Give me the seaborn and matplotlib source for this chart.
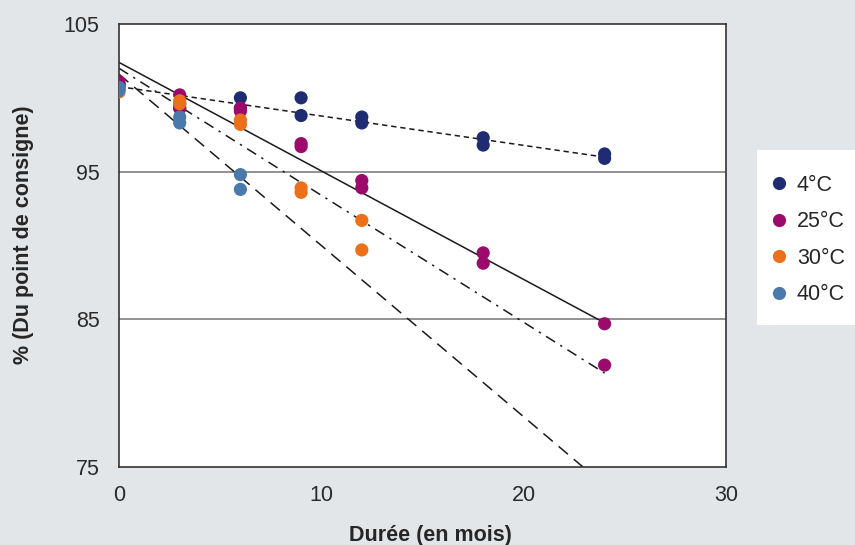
import matplotlib
matplotlib.use('Agg')
import matplotlib.pyplot as plt
import seaborn as sns
import numpy as np
import pandas as pd
from matplotlib.patches import Rectangle

# stability data, % of set point vs months
temps = ['4°C', '25°C', '30°C', '40°C']
colors = ['#1f2c72', '#9c0a6b', '#ec6f1a', '#4a7aab']

months_4 = [0, 0, 3, 3, 6, 6, 9, 9, 12, 12, 18, 18, 24, 24]
pct_4 = [100.9, 100.7, 99.6, 99.3, 100.0, 99.3, 100.0, 98.8, 98.7, 98.3, 97.3, 96.8, 96.2, 95.9]

months_25 = [0, 0, 3, 3, 6, 6, 9, 9, 12, 12, 18, 18, 24, 24]
pct_25 = [101.1, 100.9, 100.2, 99.3, 99.3, 99.1, 96.9, 96.7, 94.4, 93.9, 89.5, 88.8, 84.7, 81.9]

months_30 = [0, 0, 3, 3, 6, 6, 9, 9, 12, 12]
pct_30 = [100.4, 100.6, 99.8, 99.6, 98.5, 98.2, 93.9, 93.6, 91.7, 89.7]

months_40 = [0, 0, 3, 3, 6, 6]
pct_40 = [100.7, 100.5, 98.7, 98.3, 94.8, 93.8]

# trend lines (intercept, slope per month)
trend_intercept = [100.76, 102.4, 102.0, 101.6]
trend_slope = [-0.199, -0.735, -0.86, -1.16]
trend_styles = [(0, (3.5, 2.5)), '-', (0, (7, 4, 1.5, 4)), (0, (8, 5))]

df = pd.concat([
    pd.DataFrame({'Durée': months_4, 'pct': pct_4, 'Temp': temps[0]}),
    pd.DataFrame({'Durée': months_25, 'pct': pct_25, 'Temp': temps[1]}),
    pd.DataFrame({'Durée': months_30, 'pct': pct_30, 'Temp': temps[2]}),
    pd.DataFrame({'Durée': months_40, 'pct': pct_40, 'Temp': temps[3]}),
], ignore_index=True)

sns.set_style('white')
plt.rcParams['font.family'] = ['Liberation Sans', 'DejaVu Sans']

bg = '#e3e6e9'
W, H = 855, 545
fig = plt.figure(figsize=(8.55, 5.45), dpi=100, facecolor=bg)
ax = fig.add_axes([119 / W, 1 - 467 / H, (726 - 119) / W, (467 - 24) / H])
ax.set_facecolor('white')

ax.axhline(95, color='#7f7f7f', lw=1.2, zorder=1)
ax.axhline(85, color='#7f7f7f', lw=1.2, zorder=1)

x_line = np.array([0, 24])
for b, m, ls in zip(trend_intercept, trend_slope, trend_styles):
    ax.plot(x_line, b + m * x_line, color='#1a1a1a', lw=1.1, linestyle=ls, zorder=2)

sns.scatterplot(data=df, x='Durée', y='pct', hue='Temp', hue_order=temps,
                palette=colors, s=90, edgecolor='none', linewidth=0, ax=ax, zorder=3)

ax.set_xlim(0, 30)
ax.set_ylim(75, 105)
ax.set_xticks([0, 10, 20, 30])
ax.set_yticks([75, 85, 95, 105])
for s in ax.spines.values():
    s.set_color('#333333')
    s.set_linewidth(1.2)
ax.tick_params(axis='both', direction='out', length=6, width=1, color='#555555',
               labelsize=15.5, labelcolor='#2a2a2a')
ax.tick_params(axis='y', pad=8)
ax.tick_params(axis='x', pad=7)

ax.set_xlabel('Durée (en mois)', fontsize=15.5, fontweight='bold')
ax.set_ylabel('% (Du point de consigne)', fontsize=15.5, fontweight='bold')
ax.xaxis.set_label_coords((430 - 119) / 607, (467 - 525) / 443)
ax.yaxis.set_label_coords((34 - 119) / 607, (467 - 235) / 443)

# white legend panel on the right, drawn under the axes
fig.patches.append(Rectangle((757 / W, 1 - 325 / H), (W - 757) / W, 175 / H,
                             transform=fig.transFigure, facecolor='white',
                             edgecolor='none', zorder=-1))

handles, labels = ax.get_legend_handles_labels()
leg = ax.legend(handles, labels, loc='center left',
                bbox_to_anchor=((770 - 119) / 607, (467 - 240) / 443),
                frameon=False, fontsize=15.5, markerscale=1.0, handlelength=0.8,
                handletextpad=0.45, labelspacing=0.72, borderpad=0, borderaxespad=0)

fig.savefig('out.png', dpi=100, facecolor=bg)
